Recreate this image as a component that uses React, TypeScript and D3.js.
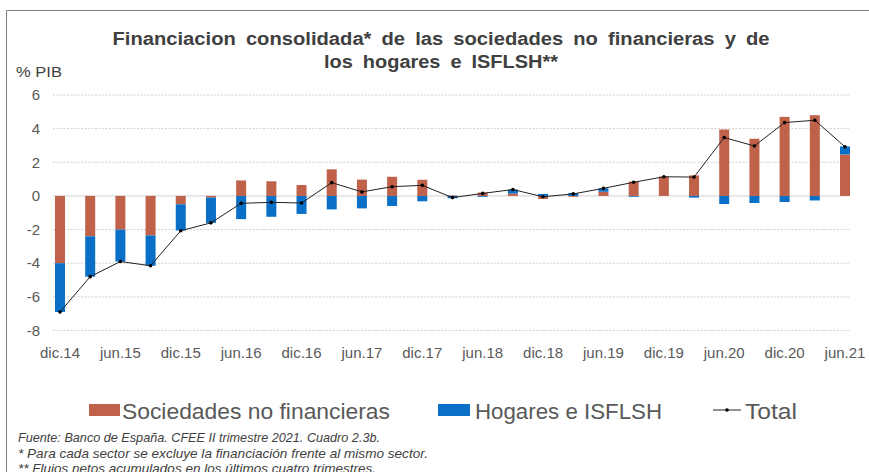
import React from "react";
import * as d3 from "d3";

const quarters = [
  "dic.14","mar.15","jun.15","sep.15","dic.15","mar.16","jun.16","sep.16","dic.16",
  "mar.17","jun.17","sep.17","dic.17","mar.18","jun.18","sep.18","dic.18",
  "mar.19","jun.19","sep.19","dic.19","mar.20","jun.20","sep.20","dic.20","mar.21","jun.21",
];
const sociedades = [
  -4.0, -2.4, -2.0, -2.35, -0.5, -0.1, 0.92, 0.87, 0.65,
  1.58, 0.97, 1.14, 0.96, 0.03, 0.2, 0.14, -0.18,
  -0.05, 0.25, 0.85, 1.15, 1.22, 3.95, 3.4, 4.7, 4.8, 2.47,
];
const hogares = [
  -2.9, -2.4, -1.9, -1.8, -1.55, -1.5, -1.38, -1.24, -1.07,
  -0.8, -0.74, -0.6, -0.32, -0.14, -0.05, 0.24, 0.12,
  0.17, 0.2, -0.05, 0.0, -0.1, -0.48, -0.42, -0.36, -0.27, 0.47,
];
const total = [
  -6.9, -4.8, -3.9, -4.15, -2.07, -1.6, -0.44, -0.38, -0.42,
  0.79, 0.24, 0.55, 0.63, -0.1, 0.15, 0.38, -0.05,
  0.12, 0.45, 0.81, 1.14, 1.12, 3.47, 2.97, 4.36, 4.5, 2.92,
];
const yTicks = [6, 4, 2, 0, -2, -4, -6, -8];
const xTickLabels = [
  "dic.14","jun.15","dic.15","jun.16","dic.16","jun.17","dic.17",
  "jun.18","dic.18","jun.19","dic.19","jun.20","dic.20","jun.21",
];
const titleLines = [
  "Financiacion consolidada* de las sociedades no financieras y de",
  "los hogares e ISFLSH**",
];
const legendLabels = ["Sociedades no financieras", "Hogares e ISFLSH", "Total"];
const footnotes = [
  "Fuente: Banco de España. CFEE II trimestre 2021. Cuadro 2.3b.",
  "* Para cada sector se excluye la financiación frente al mismo sector.",
  "** Flujos netos acumulados en los últimos cuatro trimestres.",
];

const RED = "#C0614A";
const BLUE = "#0A6FC6";
const TXT = "#595959";
const FONT = "'Liberation Sans', Arial, sans-serif";

export default function App() {
  const W = 869, H = 472;
  const x = d3.scaleBand<string>().domain(quarters).range([44.9, 860.1]).padding(0);
  const y = d3.scaleLinear().domain([-8, 6]).range([330.5, 95]);
  const bw = 10;
  const cx = (q: string) => (x(q) as number) + x.bandwidth() / 2;

  const line = d3
    .line<number>()
    .x((_, i) => cx(quarters[i]))
    .y((d) => y(d));

  const seg = (base: number, v: number) => {
    const a = y(base), b = y(base + v);
    return { y: Math.min(a, b), h: Math.abs(a - b) };
  };

  const titleLen = [657, 234];
  const footLen = [362, 410, 358];

  return (
    <svg width={W} height={H} style={{ position: "absolute", left: 0, top: 0, background: "#fff" }}
      fontFamily={FONT}>
      <rect x={0} y={0} width={W} height={H} fill="#fff" />
      <path d={`M6.5,${H + 2} V10.5 H${W + 2}`} fill="none" stroke="#7f7f7f" strokeWidth={1} />

      {titleLines.map((t, i) => (
        <text key={i} x={441} y={45 + i * 23} textAnchor="middle" fontSize={18} fontWeight="bold"
          fill="#404040" wordSpacing={4} textLength={titleLen[i]} lengthAdjust="spacingAndGlyphs">{t}</text>
      ))}
      <text x={16} y={77} fontSize={15.5} fill="#404040" textLength={46} lengthAdjust="spacingAndGlyphs">% PIB</text>

      {yTicks.map((t) => (
        <g key={t}>
          <line x1={53} x2={849} y1={y(t)} y2={y(t)} stroke="#d0d0d0" strokeWidth={1}
            strokeDasharray={t === 0 ? undefined : "2,1.5"} />
          <text x={40} y={y(t)} dy="0.35em" textAnchor="end" fontSize={15} fill={TXT}>{t}</text>
        </g>
      ))}

      {quarters.map((q, i) => {
        const s = sociedades[i], h = hogares[i];
        const hBase = Math.sign(h) === Math.sign(s) ? s : 0;
        const r1 = seg(0, s), r2 = seg(hBase, h);
        return (
          <g key={q}>
            <rect x={cx(q) - bw / 2} y={r1.y} width={bw} height={r1.h} fill={RED} />
            <rect x={cx(q) - bw / 2} y={r2.y} width={bw} height={r2.h} fill={BLUE} />
          </g>
        );
      })}

      <path d={line(total) || ""} fill="none" stroke="#222" strokeWidth={1} />
      {total.map((v, i) => (
        <circle key={i} cx={cx(quarters[i])} cy={y(v)} r={1.8} fill="#000" />
      ))}

      {xTickLabels.map((l) => (
        <text key={l} x={cx(l)} y={358} textAnchor="middle" fontSize={15} fill={TXT}>{l}</text>
      ))}

      <rect x={89} y={404} width={31} height={12} fill={RED} />
      <text x={122} y={419} fontSize={22} fill={TXT} textLength={268} lengthAdjust="spacingAndGlyphs">{legendLabels[0]}</text>
      <rect x={438} y={404} width={32} height={12} fill={BLUE} />
      <text x={475} y={419} fontSize={22} fill={TXT} textLength={187} lengthAdjust="spacingAndGlyphs">{legendLabels[1]}</text>
      <line x1={713} x2={741} y1={410} y2={410} stroke="#222" strokeWidth={1} />
      <circle cx={727} cy={410} r={1.8} fill="#000" />
      <text x={745} y={419} fontSize={22} fill={TXT} textLength={52} lengthAdjust="spacingAndGlyphs">{legendLabels[2]}</text>

      {footnotes.map((f, i) => (
        <text key={i} x={18} y={442 + i * 15.5} fontSize={13} fontStyle="italic" fill="#404040"
          textLength={footLen[i]} lengthAdjust="spacingAndGlyphs">{f}</text>
      ))}
    </svg>
  );
}
